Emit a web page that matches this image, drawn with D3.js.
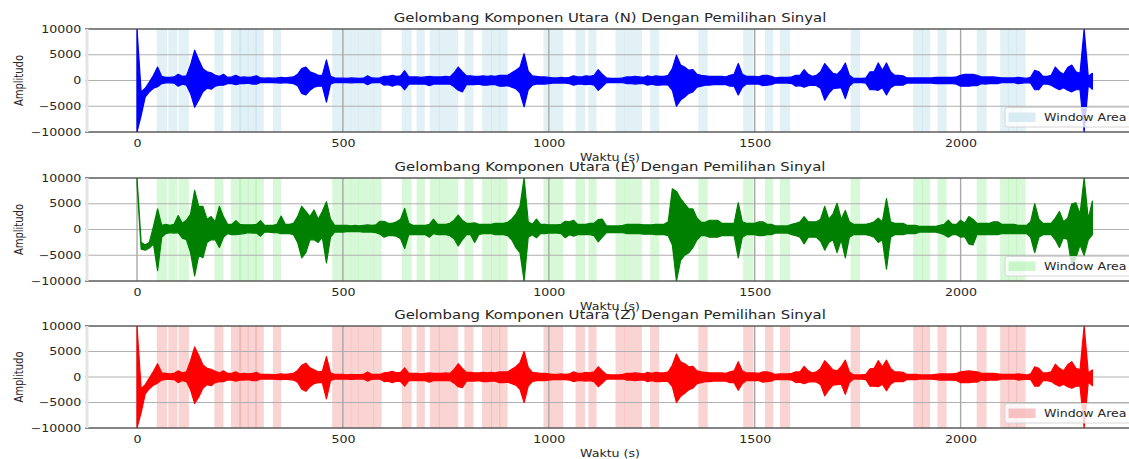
<!DOCTYPE html>
<html><head><meta charset="utf-8">
<script src="https://cdn.jsdelivr.net/npm/d3@7"></script>
<style>html,body{margin:0;padding:0;background:#fff;overflow:hidden}</style>
</head><body><svg id="chart" width="1129" height="459"></svg>
<script>
// ---------------- DATA ----------------
const sampleStep = 10; // seconds between envelope samples (t = 0 .. 2320)

const nHigh = [10000,-2200,-1500,-300,1000,2600,800,600,600,700,
1200,800,900,3000,5900,4000,2300,1700,1500,1000,
800,1200,600,700,1000,600,700,600,700,900,
500,450,500,450,500,600,500,600,700,1200,
2300,2600,1700,1400,1000,1000,4000,800,500,450,
450,400,500,450,400,450,900,500,450,500,
800,800,1000,800,900,1900,700,700,700,600,
700,800,700,700,700,800,700,1500,2600,1700,
900,900,800,800,900,800,900,800,1000,1000,
1000,1500,2000,2600,5200,1800,900,800,700,700,
600,500,500,600,500,600,900,700,700,900,
800,1000,2100,1200,500,400,400,400,500,700,
700,800,700,600,900,700,900,800,800,1000,
2300,4900,3000,2600,2000,2100,1200,1000,900,800,
800,800,800,700,1000,1200,3300,1200,800,800,
800,700,1000,1000,800,500,600,600,600,700,
1000,1000,2100,1200,800,1000,1700,3300,2300,1400,
1200,2000,3400,1000,400,400,400,500,1700,1700,
3400,2000,3400,1700,1000,1000,900,500,500,500,
500,500,500,500,600,600,600,600,600,700,
1000,1200,1200,1200,1000,700,700,700,700,600,
500,500,500,500,600,500,400,600,2000,1700,
800,800,1000,2600,1700,1200,2500,3000,1700,1400,
10000,800,1400];
const nLow = [-10000,-6800,-3200,-2200,-1500,-1200,-600,-450,-450,-500,
-1100,-700,-900,-2500,-5200,-3800,-2200,-1500,-1700,-1100,
-900,-900,-600,-600,-800,-600,-600,-500,-700,-700,
-400,-400,-400,-400,-450,-500,-400,-500,-600,-1000,
-2500,-2800,-1900,-1300,-1100,-1100,-4200,-700,-400,-400,
-400,-400,-450,-400,-350,-400,-800,-450,-400,-400,
-900,-800,-1100,-800,-900,-1800,-700,-700,-700,-700,
-700,-1000,-700,-700,-700,-700,-700,-1200,-1900,-2200,
-800,-800,-800,-700,-900,-900,-800,-800,-1100,-1100,
-1000,-1300,-1600,-2400,-5100,-1800,-900,-700,-700,-700,
-600,-500,-500,-500,-500,-600,-900,-700,-700,-800,
-700,-900,-1900,-1200,-400,-400,-400,-400,-400,-600,
-600,-700,-600,-600,-900,-700,-900,-900,-800,-900,
-1900,-5000,-3800,-3200,-2500,-2200,-1300,-1100,-900,-900,
-800,-800,-800,-800,-1100,-1100,-2800,-1300,-700,-700,
-700,-700,-1000,-900,-800,-500,-500,-500,-500,-600,
-1100,-1000,-1300,-1000,-900,-1000,-1500,-3800,-2500,-1600,
-1500,-1400,-3500,-1100,-400,-400,-400,-500,-1800,-1800,
-1900,-1400,-2800,-1400,-900,-900,-900,-500,-500,-500,
-500,-500,-500,-500,-600,-600,-600,-600,-600,-700,
-1100,-1100,-1100,-1000,-1000,-600,-700,-600,-600,-600,
-400,-400,-400,-400,-600,-500,-400,-500,-1800,-1800,
-700,-700,-900,-1400,-1800,-1400,-1900,-2200,-1800,-1800,
-10000,-1000,-1700];

const eHigh = [10000,-2500,-3000,-2500,600,4000,800,1000,800,1000,
2700,1200,1800,3000,7600,4500,4500,2000,2500,1500,
4500,2500,1000,1000,1700,1000,900,900,900,1000,
1700,800,800,800,1000,2600,1000,1000,1200,2500,
4500,3500,2500,3800,2000,3500,5400,2000,800,800,
800,800,700,800,700,800,900,800,900,1600,
1600,1200,1200,1500,2000,4100,1200,800,800,800,
800,1000,2000,1000,1000,1000,1200,1800,2800,1800,
1200,1200,1300,1000,1000,1000,1000,1200,1200,1200,
1400,2000,3000,4500,10000,1500,1000,2000,1000,1000,
900,900,900,1000,1600,1500,1800,1000,1000,1000,
1200,1200,1900,2000,700,700,700,700,800,1000,
1000,1000,1000,900,900,900,1000,1000,1000,1500,
7900,7400,6000,5000,4000,4000,2200,1400,1400,1800,
1800,1800,1200,1200,1200,1200,5200,1500,1200,1200,
1200,1500,1500,1000,1000,700,700,700,700,1000,
1200,1500,2500,1500,1500,1500,2000,4500,2000,3000,
5100,2000,3700,1500,1000,1000,1000,1000,1200,1500,
2200,1500,6000,1500,1200,1200,1200,800,800,800,
600,600,600,600,600,800,1000,1800,1000,1000,
1800,1200,2500,2000,1200,1200,1200,1200,1500,1500,
1000,1000,1000,1000,800,800,800,1500,5000,2000,
1200,1200,1200,2200,3500,1500,2200,5000,5200,3000,
10000,2000,5500];
const eLow = [9000,-3800,-4000,-3600,-2800,-8000,-1500,-800,-600,-700,
-600,-1700,-2000,-4500,-9000,-5000,-5500,-2500,-2000,-2000,
-3500,-1500,-800,-1000,-1000,-900,-800,-600,-700,-700,
-1300,-500,-500,-600,-600,-800,-800,-800,-1000,-2500,
-5500,-4500,-2000,-2000,-2500,-1500,-6500,-1500,-500,-500,
-500,-400,-400,-400,-400,-500,-500,-500,-600,-900,
-1500,-1200,-1200,-1300,-1800,-3700,-1000,-1000,-1000,-1000,
-1000,-1500,-800,-1000,-1000,-1000,-1200,-1800,-3200,-2000,
-1000,-1000,-2500,-1000,-800,-800,-800,-1000,-1000,-1000,
-1200,-2000,-3500,-4500,-10000,-1500,-1000,-1600,-800,-800,
-700,-700,-700,-800,-1600,-1000,-1300,-1000,-1000,-1000,
-1000,-1200,-2400,-1500,-600,-600,-600,-600,-600,-800,
-800,-800,-800,-900,-900,-900,-1000,-1000,-1000,-1200,
-3000,-10000,-6000,-5000,-4500,-3500,-2000,-1200,-1200,-1500,
-1500,-1500,-1200,-1200,-1200,-1200,-5500,-1500,-1000,-1000,
-1000,-1200,-1200,-1000,-1000,-700,-700,-700,-700,-1000,
-1200,-1500,-2800,-1500,-1500,-1500,-2300,-4000,-2500,-2000,
-4500,-2000,-5500,-1500,-1000,-1000,-1000,-1000,-1200,-1500,
-2500,-2000,-7700,-1500,-1000,-1000,-1000,-800,-800,-800,
-500,-500,-500,-500,-500,-700,-1000,-1500,-1000,-1000,
-1500,-1400,-2800,-3000,-1000,-1000,-1000,-1000,-1000,-1000,
-800,-800,-800,-800,-800,-800,-800,-1500,-4500,-1500,
-1000,-1000,-1000,-2000,-3500,-1500,-2000,-7000,-5500,-3000,
-5000,-2000,-1000];

const zHigh = [10000,-2300,-1500,-200,1100,2600,800,700,600,700,
1200,800,1000,3200,5900,4200,2400,1700,1500,1100,
800,1200,700,700,1000,600,700,600,700,900,
500,500,500,450,500,600,500,600,700,1300,
2300,2700,1800,1400,1000,1100,4000,800,500,500,
500,400,500,450,450,500,1000,500,500,500,
800,900,1100,800,900,1800,700,700,700,600,
700,800,700,700,700,800,700,1500,2600,1700,
900,900,800,800,900,800,900,800,1000,1000,
1000,1500,2000,2800,5000,1900,900,800,700,700,
600,500,500,600,500,600,1000,700,700,900,
800,1000,2000,1200,500,400,400,400,500,700,
700,800,700,600,900,700,900,800,800,1000,
2300,4500,3000,2600,2000,2100,1200,1000,900,800,
800,800,800,700,1000,1200,3000,1200,800,800,
800,700,1000,1000,800,500,600,600,600,700,
1000,1000,2100,1200,800,1000,1700,3200,2300,1400,
1200,2000,3300,1000,400,400,400,500,1600,1700,
3200,2000,3300,1700,1000,1000,900,500,500,500,
400,400,400,400,500,600,600,600,600,700,
1000,1100,1200,1100,1000,700,700,700,700,600,
500,500,500,500,600,500,400,600,2000,1700,
800,800,1000,2500,1700,1200,2400,3000,1700,1400,
10000,800,1400];
const zLow = [-10000,-7000,-3300,-2300,-1600,-1200,-600,-450,-450,-500,
-1100,-700,-900,-2500,-5200,-3900,-2200,-1500,-1700,-1100,
-900,-900,-600,-600,-800,-600,-600,-500,-700,-700,
-400,-400,-400,-400,-450,-500,-400,-500,-600,-1000,
-2400,-2800,-1900,-1300,-1100,-1100,-4300,-700,-400,-400,
-400,-400,-450,-400,-350,-400,-800,-450,-400,-400,
-900,-800,-1100,-800,-900,-1800,-700,-700,-700,-700,
-700,-1000,-700,-700,-700,-700,-700,-1200,-1900,-2100,
-800,-800,-800,-700,-900,-900,-800,-800,-1100,-1100,
-1000,-1300,-1600,-2400,-5000,-1800,-900,-700,-700,-700,
-600,-500,-500,-500,-500,-600,-900,-700,-700,-800,
-700,-900,-1900,-1200,-400,-400,-400,-400,-400,-600,
-600,-700,-600,-600,-900,-700,-900,-900,-800,-900,
-1900,-5000,-3800,-3200,-2500,-2200,-1300,-1100,-900,-900,
-800,-800,-800,-800,-1100,-1100,-2600,-1300,-700,-700,
-700,-700,-1000,-900,-800,-500,-500,-500,-500,-600,
-1100,-1000,-1300,-1000,-900,-1000,-1500,-3700,-2500,-1600,
-1500,-1400,-3400,-1100,-400,-400,-400,-500,-1800,-1800,
-1900,-1400,-2700,-1400,-900,-900,-900,-500,-500,-500,
-400,-400,-400,-400,-500,-600,-600,-600,-600,-700,
-1100,-1100,-1100,-1000,-1000,-600,-700,-600,-600,-600,
-400,-400,-400,-400,-600,-500,-400,-500,-1800,-1800,
-700,-700,-900,-1400,-1800,-1400,-1900,-2200,-1800,-1800,
-10000,-1000,-1700];

const windowStart = [48,76,101,188,228,248,269,287,330,474,498,519,537,556,574,643,679,711,733,758,795,838,860,880,987,1012,1065,1096,1162,1183,1205,1246,1363,1472,1525,1561,1733,1885,1906,1944,2039,2096,2116,2135];
const windowEnd   = [73,98,126,210,253,271,291,308,350,500,520,538,556,575,594,667,699,735,758,780,817,862,882,900,1012,1035,1088,1116,1184,1205,1226,1268,1386,1497,1545,1586,1756,1908,1926,1966,2063,2118,2137,2158];

const xTickValues = [0, 500, 1000, 1500, 2000];
const xTickLabels = ["0", "500", "1000", "1500", "2000"];
const yTickValues = [-10000, -5000, 0, 5000, 10000];
const yTickLabels = ["\u221210000", "\u22125000", "0", "5000", "10000"];
const panelTitles = [
  "Gelombang Komponen Utara (N) Dengan Pemilihan Sinyal",
  "Gelombang Komponen Utara (E) Dengan Pemilihan Sinyal",
  "Gelombang Komponen Utara (Z) Dengan Pemilihan Sinyal"
];
const xLabel = "Waktu (s)";
const yLabel = "Amplitudo";
const legendLabel = "Window Area";

// ---------------- LAYOUT / STYLE ----------------
const W = 1129, H = 459;
const left = 85, right = 1135;
const panelTops = [29, 178, 326];
const panelBottoms = [132, 281, 428];
const lineColors = ["#0000ff", "#008000", "#ff0000"];
const spanColors = ["#add8e6", "#90ee90", "#f08080"];
const highs = [nHigh, eHigh, zHigh];
const lows = [nLow, eLow, zLow];
const stretch = 1.26;
const font = "DejaVu Sans, sans-serif";
const textColor = "#262626";

const svg = d3.select("#chart");
svg.append("rect").attr("width", W).attr("height", H).attr("fill", "#fff");

const x = d3.scaleLinear().domain([-126.3, 2423.5]).range([left, right]);

panelTitles.forEach((title, p) => {
  const top = panelTops[p], bottom = panelBottoms[p];
  const y = d3.scaleLinear().domain([-10000, 10000]).range([bottom, top]);
  const g = svg.append("g");
  const clipId = "clip" + p;
  svg.append("clipPath").attr("id", clipId).append("rect")
    .attr("x", left).attr("y", top).attr("width", right - left).attr("height", bottom - top);

  // window spans
  g.append("g").attr("clip-path", `url(#${clipId})`).selectAll("rect")
    .data(windowStart.map((s, i) => [s, windowEnd[i]]))
    .join("rect")
    .attr("x", d => x(d[0])).attr("width", d => x(d[1]) - x(d[0]))
    .attr("y", top).attr("height", bottom - top)
    .attr("fill", spanColors[p]).attr("fill-opacity", 0.35);

  // grid
  g.append("g").selectAll("line").data(yTickValues).join("line")
    .attr("x1", left).attr("x2", right).attr("y1", d => y(d)).attr("y2", d => y(d))
    .attr("stroke", "#b0b0b0").attr("stroke-width", 1);
  g.append("g").selectAll("line").data(xTickValues).join("line")
    .attr("x1", d => x(d)).attr("x2", d => x(d)).attr("y1", top).attr("y2", bottom)
    .attr("stroke", "#a8a8a8").attr("stroke-width", 1.4);

  // waveform envelope
  const hi = highs[p], lo = lows[p];
  const pts = hi.map((h, i) => ({ t: i * sampleStep, h: h, l: lo[i] }));
  const area = d3.area().x(d => x(d.t)).y0(d => y(d.l)).y1(d => y(d.h));
  g.append("path").attr("clip-path", `url(#${clipId})`).datum(pts)
    .attr("d", area).attr("fill", lineColors[p])
    .attr("stroke", lineColors[p]).attr("stroke-width", 1.2).attr("stroke-linejoin", "round");

  // spines
  g.append("line").attr("x1", left).attr("x2", right).attr("y1", top).attr("y2", top)
    .attr("stroke", "#333").attr("stroke-width", 1.2);
  g.append("line").attr("x1", left).attr("x2", right).attr("y1", bottom).attr("y2", bottom)
    .attr("stroke", "#333").attr("stroke-width", 1.2);
  g.append("line").attr("x1", left + 2).attr("x2", left + 2).attr("y1", top).attr("y2", bottom)
    .attr("stroke", "#e4e4e4").attr("stroke-width", 3);

  // axes
  const xa = g.append("g").attr("transform", `translate(0,${bottom})`)
    .call(d3.axisBottom(x).tickValues(xTickValues).tickFormat((d, i) => xTickLabels[i]).tickSize(0).tickPadding(8));
  xa.select(".domain").remove();
  xa.selectAll("text").attr("font-family", font).attr("font-size", 10).attr("fill", textColor)
    .attr("transform", `scale(${stretch},1)`);
  const ya = g.append("g").attr("transform", `translate(${left},0)`)
    .call(d3.axisLeft(y).tickValues(yTickValues).tickFormat((d, i) => yTickLabels[i]).tickSize(0).tickPadding(3));
  ya.select(".domain").remove();
  ya.selectAll("text").attr("font-family", font).attr("font-size", 10).attr("fill", textColor)
    .attr("transform", `scale(${stretch},1)`);

  // y label
  g.append("text").text(yLabel)
    .attr("transform", `translate(23,${(top + bottom) / 2}) scale(${stretch},1) rotate(-90)`)
    .attr("text-anchor", "middle").attr("font-family", font).attr("font-size", 10).attr("fill", textColor);

  // x label (partly covered by the next panel's title, as in the original)
  g.append("text").text(xLabel)
    .attr("transform", `translate(${(left + right) / 2},${bottom + 29}) scale(${stretch},1)`)
    .attr("text-anchor", "middle").attr("font-family", font).attr("font-size", 10).attr("fill", textColor);

  // title
  g.append("text").text(title)
    .attr("transform", `translate(${(left + right) / 2},${top - 7}) scale(1.2,1)`)
    .attr("text-anchor", "middle").attr("font-family", font).attr("font-size", 12.4).attr("fill", textColor);

  // legend
  const lg = g.append("g");
  lg.append("rect").attr("x", 1005).attr("y", bottom - 24.5).attr("width", 140).attr("height", 19.5)
    .attr("rx", 2.5).attr("fill", "#fff").attr("fill-opacity", 0.8).attr("stroke", "#d6d6d6");
  lg.append("rect").attr("x", 1008.5).attr("y", bottom - 19.5).attr("width", 27).attr("height", 9.5)
    .attr("fill", spanColors[p]).attr("fill-opacity", 0.45);
  lg.append("text").text(legendLabel)
    .attr("transform", `translate(1044,${bottom - 11}) scale(${stretch},1)`)
    .attr("font-family", font).attr("font-size", 10).attr("fill", textColor);
});
</script></body></html>
